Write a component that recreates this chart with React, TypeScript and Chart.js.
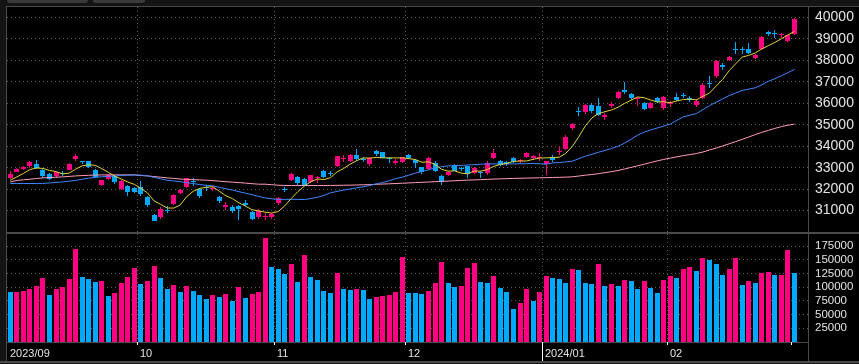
import { useEffect, useRef } from 'react';
import { Chart, registerables } from 'chart.js';

Chart.register(...registerables);

// ---- data (Nikkei 225 daily, 2023/09/01 - 2024/03/01) ----
const opens = [
  32540, 32800, 32950, 33090, 33160, 32910, 32720, 32600, 32760, 32900,
  33390, 33300, 33290, 32880, 32190, 32490, 32600, 32020, 32140, 32060,
  32100, 31620, 30790, 30700, 31030, 31310, 31810, 32090, 32350, 31990,
  32080, 32000, 31640, 31160, 31170, 31220, 31350, 30920, 30700, 30680,
  30680, 31330, 32000, 32420, 32560, 32470, 32310, 32500, 32840, 32740,
  33070, 33400, 33300, 33590, 33400, 33160, 33770, 33720, 33450, 33210,
  33260, 33580, 33350, 33020, 32930, 33210, 32610, 32650, 33120, 32960,
  33070, 32740, 32800, 32740, 33440, 33300, 33260, 33440, 33290, 33490,
  33440, 33430, 33160, 33490, 33720, 33860, 34850, 35600, 35600, 35910,
  35870, 35370, 35870, 36270, 36640, 36430, 36200, 36020, 35800, 36225,
  35760, 35990, 36300, 36410, 36270, 35910, 36230, 36930, 37250, 37780,
  38000, 38550, 38520, 38540, 38135, 38510, 39320, 39270, 39180, 38900,
  39226,
];
const highs = [
  32845, 32990, 33090, 33322, 33350, 32960, 32770, 32810, 32860, 33200,
  33634, 33330, 33300, 32960, 32440, 32720, 32650, 32440, 32180, 32120,
  32400, 31700, 30850, 31160, 31200, 31780, 32010, 32520, 32500, 32050,
  32200, 32150, 31700, 31400, 31260, 31240, 31470, 30960, 31050, 30900,
  30900, 31640, 32100, 32770, 32600, 32500, 32680, 32620, 32880, 32830,
  33550, 33600, 33640, 33850, 33500, 33480, 33810, 33750, 33500, 33400,
  33500, 33650, 33400, 33050, 33500, 33300, 32650, 32850, 33170, 33050,
  33100, 33030, 32850, 33300, 33860, 33350, 33320, 33480, 33400, 33750,
  33600, 33670, 33300, 33570, 34000, 34540, 35100, 35840, 35950, 36000,
  36230, 35550, 36080, 36580, 36984, 36480, 36300, 36050, 36080, 36280,
  36320, 36100, 36460, 36480, 36320, 36200, 36950, 37287, 38010, 37900,
  38200, 38865, 38620, 38810, 38300, 39157, 39388, 39426, 39300, 39200,
  39990,
];
const lows = [
  32450, 32780, 32880, 33000, 32950, 32540, 32420, 32510, 32600, 32870,
  33330, 33160, 32980, 32500, 32150, 32420, 32260, 31980, 31670, 31810,
  31700, 31150, 30490, 30600, 30900, 31250, 31750, 32050, 32150, 31600,
  31900, 31900, 31340, 31040, 30900, 30540, 31200, 30560, 30600, 30550,
  30600, 31250, 31850, 32380, 32200, 32150, 32280, 32300, 32540, 32600,
  33050, 33280, 33250, 33330, 33250, 33100, 33560, 33440, 33220, 33120,
  33200, 33400, 32975, 32700, 32900, 32800, 32180, 32600, 32830, 32850,
  32510, 32700, 32500, 32650, 33400, 33100, 33100, 33200, 33200, 33450,
  33380, 33300, 32650, 33280, 33580, 33800, 34750, 35400, 35500, 35550,
  35400, 35200, 35800, 36200, 36450, 36150, 35880, 35700, 35750, 36000,
  35700, 35850, 36100, 36250, 36050, 35850, 36200, 36700, 37200, 37550,
  37950, 38300, 38320, 38300, 38050, 38500, 39150, 39050, 39050, 38876,
  39186,
];
const closes = [
  32710, 32939, 33037, 33241, 32991, 32607, 32468, 32776, 32707, 33168,
  33533, 33243, 33024, 32571, 32402, 32679, 32315, 32372, 31873, 31858,
  31760, 31238, 30527, 31075, 30995, 31747, 31937, 32495, 32316, 31659,
  32040, 32042, 31431, 31259, 31000, 31062, 31270, 30602, 30992, 30697,
  30859, 31602, 31950, 32708, 32272, 32166, 32646, 32568, 32585, 32696,
  33520, 33424, 33585, 33388, 33354, 33452, 33626, 33448, 33408, 33321,
  33487, 33432, 33231, 32776, 33446, 32858, 32308, 32792, 32844, 32926,
  32686, 32971, 32759, 33219, 33676, 33140, 33169, 33254, 33306, 33681,
  33540, 33464, 33288, 33377, 33763, 34442, 35050, 35577, 35902, 35619,
  35478, 35466, 35963, 36547, 36518, 36226, 36236, 35751, 36027, 36066,
  36287, 36011, 36158, 36354, 36161, 36120, 36863, 36897, 37964, 37703,
  38158, 38487, 38470, 38364, 38262, 39099, 39234, 39240, 39208, 39166,
  39911,
];
const volumes = [
  91600, 92000, 93400, 97000, 102500, 117000, 86200, 97000, 100700, 115200,
  169600, 118800, 115200, 109700, 111600, 84300, 89800, 107900, 118800, 135100,
  106100, 111600, 138800, 117000, 97000, 104300, 91600, 102500, 93400, 86200,
  78900, 86200, 82500, 88000, 75300, 100700, 80700, 88000, 91600, 189600,
  136900, 133300, 124300, 142400, 109700, 158700, 118800, 113400, 93400, 89800,
  126100, 97000, 95200, 97000, 95200, 78900, 82500, 84300, 86200, 91600,
  155100, 89800, 89500, 88000, 93400, 107900, 146000, 107900, 100700, 102500,
  135100, 144200, 109700, 107900, 120600, 98900, 91600, 60800, 71600, 97000,
  75300, 91600, 120600, 117000, 115200, 107900, 133300, 131500, 107900, 106100,
  142400, 102500, 106100, 102500, 113400, 111600, 97000, 111600, 98900, 89800,
  113400, 120600, 117000, 133300, 136900, 129700, 153300, 149600, 142400, 122400,
  133300, 153300, 104300, 111600, 107900, 126100, 127900, 122400, 122800, 167800,
  126100,
];
const prevDayVolume = 98000;
const ma5 = [
  32412, 32566, 32728, 32909, 32984, 32963, 32869, 32817, 32710, 32745,
  32930, 33085, 33135, 33108, 32955, 32784, 32598, 32468, 32328, 32219,
  32036, 31820, 31451, 31292, 31119, 31116, 31256, 31650, 31898, 32031,
  32089, 32110, 31898, 31686, 31554, 31359, 31204, 31039, 30985, 30925,
  30884, 30950, 31220, 31563, 31878, 32140, 32348, 32472, 32447, 32532,
  32803, 32959, 33162, 33323, 33454, 33441, 33481, 33454, 33458, 33451,
  33458, 33419, 33376, 33249, 33274, 33149, 32924, 32836, 32850, 32746,
  32711, 32844, 32837, 32912, 33062, 33153, 33193, 33292, 33309, 33310,
  33390, 33449, 33456, 33470, 33486, 33667, 33984, 34442, 34947, 35318,
  35525, 35608, 35686, 35815, 35994, 36144, 36298, 36256, 36152, 36061,
  36073, 36028, 36110, 36175, 36194, 36161, 36331, 36479, 36801, 37109,
  37517, 37842, 38156, 38236, 38348, 38536, 38686, 38840, 39009, 39189,
  39352,
];
const ma25 = [
  32261, 32261, 32261, 32262, 32262, 32265, 32285, 32310, 32335, 32370,
  32405, 32460, 32510, 32545, 32575, 32595, 32615, 32635, 32650, 32660,
  32650, 32615, 32550, 32480, 32410, 32380, 32345, 32300, 32260, 32210,
  32180, 32150, 32080, 32020, 31955, 31880, 31810, 31740, 31660, 31590,
  31550, 31520, 31520, 31525, 31520, 31515, 31560, 31620, 31700, 31830,
  31890, 31955, 32000, 32060, 32105, 32170, 32245, 32310, 32390, 32490,
  32560, 32650, 32745, 32820, 32900, 32990, 33050, 33080, 33090, 33105,
  33125, 33140, 33160, 33175, 33175, 33175, 33175, 33175, 33180, 33185,
  33195, 33180, 33161, 33222, 33240, 33268, 33301, 33417, 33534, 33622,
  33716, 33804, 33893, 33995, 34145, 34326, 34517, 34657, 34755, 34848,
  34937, 35035, 35207, 35371, 35445, 35520, 35711, 35893, 36051, 36205,
  36359, 36480, 36597, 36662, 36723, 36862, 37026, 37147, 37287, 37431,
  37580,
];
const ma75 = [
  32336, 32401, 32434, 32462, 32494, 32522, 32541, 32555, 32569, 32592,
  32615, 32630, 32645, 32655, 32662, 32662, 32662, 32662, 32662, 32662,
  32634, 32615, 32583, 32555, 32522, 32499, 32471, 32452, 32438, 32429,
  32415, 32396, 32368, 32345, 32322, 32303, 32280, 32252, 32229, 32229,
  32205, 32182, 32168, 32168, 32168, 32168, 32168, 32168, 32170, 32172,
  32175, 32180, 32185, 32192, 32200, 32210, 32222, 32235, 32248, 32261,
  32275, 32290, 32303, 32316, 32330, 32345, 32360, 32375, 32390, 32405,
  32418, 32430, 32442, 32455, 32467, 32478, 32488, 32497, 32505, 32513,
  32520, 32527, 32534, 32541, 32548, 32558, 32573, 32610, 32648, 32681,
  32718, 32765, 32816, 32867, 32937, 33012, 33086, 33161, 33240, 33315,
  33385, 33445, 33506, 33562, 33609, 33660, 33730, 33823, 33912, 34010,
  34112, 34215, 34317, 34429, 34541, 34648, 34737, 34830, 34914, 34979,
  35030,
];
const priceTicks = [31000, 32000, 33000, 34000, 35000, 36000, 37000, 38000, 39000, 40000];
const volumeTicks = [25000, 50000, 75000, 100000, 125000, 150000, 175000];
const monthStarts = [0, 20, 41, 61, 82, 101, 120];
const monthLabels = ['2023/09', '10', '11', '12', '2024/01', '02', ''];

// ---- styling ----
const UP = '#ff0080';
const DOWN = '#00a8ff';
const GRID = '#5a5a5a';
const FRAME = '#4a4a4a';
const OUTER = '#141414';
const TEXT = '#e4e4e4';
const FONT = '"Liberation Sans", Arial, sans-serif';
const X_MIN = -0.5;
const X_MAX = 122.07;

const snapBars = {
  id: 'snapBars',
  afterDatasetsUpdate(chart: any) {
    chart.data.datasets.forEach((_: any, di: number) => {
      const meta = chart.getDatasetMeta(di);
      if (meta.type !== 'bar') return;
      meta.data.forEach((el: any) => {
        el.x = Math.floor(el.x) + 0.5;
        const y = Math.round(el.y);
        let b = Math.round(el.base);
        if (b === y) b = y + 1;
        el.y = y;
        el.base = b;
      });
    });
  },
};

const monthAxis = {
  id: 'monthAxis',
  afterDraw(chart: any) {
    const { ctx, chartArea } = chart;
    const xs = chart.scales.x;
    ctx.save();
    ctx.font = `11px ${FONT}`;
    ctx.fillStyle = TEXT;
    ctx.textBaseline = 'alphabetic';
    ctx.textAlign = 'left';
    ctx.strokeStyle = '#ffffff';
    ctx.lineWidth = 1;
    monthStarts.forEach((idx, k) => {
      const px = Math.round(xs.getPixelForValue(idx - 0.5) - 0.5) + 0.5;
      if (k > 0) {
        const newYear = monthLabels[k].indexOf('/') >= 0;
        ctx.beginPath();
        ctx.moveTo(px, chartArea.bottom);
        ctx.lineTo(px, chartArea.bottom + (newYear ? 19 : 3));
        ctx.stroke();
      }
      if (monthLabels[k]) ctx.fillText(monthLabels[k], px + 2.5, chartArea.bottom + 15);
    });
    ctx.restore();
  },
};

const monthGridTicks = (s: any) => {
  s.ticks = monthStarts.slice(1, 6).map((v) => ({ value: v - 0.5 }));
};

export default function App() {
  const priceRef = useRef<HTMLCanvasElement>(null);
  const volRef = useRef<HTMLCanvasElement>(null);

  useEffect(() => {
    document.body.style.margin = '0';
    document.body.style.background = '#000';
    const idx = closes.map((_, i) => i);
    const candleColors = idx.map((i) => (closes[i] >= opens[i] ? UP : DOWN));
    const volColors = idx.map((i) =>
      volumes[i] >= (i === 0 ? prevDayVolume : volumes[i - 1]) ? UP : DOWN
    );

    const xScale = (height: number) => ({
      type: 'linear' as const,
      min: X_MIN,
      max: X_MAX,
      bounds: 'data' as const,
      offset: false,
      afterBuildTicks: monthGridTicks,
      ticks: { display: false },
      grid: { color: GRID, lineWidth: 1, drawTicks: false, offset: false },
      border: { display: false, dash: [1, 3] },
      afterFit: (s: any) => {
        s.height = height;
        s.paddingLeft = 0;
        s.paddingRight = 0;
      },
    });

    const price = new Chart(priceRef.current!, {
      type: 'bar',
      data: {
        datasets: [
          {
            type: 'line',
            data: idx.map((i) => ({ x: i, y: ma5[i] })),
            borderColor: '#e2d43a',
            borderWidth: 1,
            pointRadius: 0,
            tension: 0,
            order: 0,
          } as any,
          {
            type: 'line',
            data: idx.map((i) => ({ x: i, y: ma25[i] })),
            borderColor: '#3f86ff',
            borderWidth: 1,
            pointRadius: 0,
            tension: 0,
            order: 0,
          },
          {
            type: 'line',
            data: idx.map((i) => ({ x: i, y: ma75[i] })),
            borderColor: '#ff9db6',
            borderWidth: 1,
            pointRadius: 0,
            tension: 0,
            order: 0,
          },
          {
            type: 'bar',
            data: idx.map((i) => ({ x: i, y: [opens[i], closes[i]] })),
            backgroundColor: candleColors,
            barThickness: 5,
            grouped: false,
            borderWidth: 0,
            inflateAmount: 0,
            minBarLength: 1,
            order: 1,
          },
          {
            type: 'bar',
            data: idx.map((i) => ({ x: i, y: [lows[i], highs[i]] })),
            backgroundColor: candleColors,
            barThickness: 1,
            grouped: false,
            borderWidth: 0,
            inflateAmount: 0,
            minBarLength: 1,
            order: 2,
          },
        ] as any,
      },
      options: {
        responsive: false,
        maintainAspectRatio: false,
        animation: false,
        events: [],
        layout: { padding: 0 },
        plugins: { legend: { display: false }, tooltip: { enabled: false } },
        scales: {
          x: xScale(0) as any,
          y: {
            type: 'linear',
            position: 'right',
            min: 30000,
            max: 40490,
            bounds: 'data',
            afterBuildTicks: (s: any) => {
              s.ticks = priceTicks.map((v) => ({ value: v }));
            },
            ticks: {
              color: TEXT,
              font: { family: FONT, size: 14 },
              padding: 7,
              callback: (v: any) => String(v),
            },
            grid: { color: GRID, lineWidth: 1, drawTicks: false },
            border: { display: false, dash: [1, 3] },
            afterFit: (s: any) => {
              s.width = 51;
              s.paddingTop = 0;
              s.paddingBottom = 0;
            },
          } as any,
        },
      },
      plugins: [snapBars],
    });

    const vol = new Chart(volRef.current!, {
      type: 'bar',
      data: {
        datasets: [
          {
            data: idx.map((i) => ({ x: i, y: volumes[i] })),
            backgroundColor: volColors,
            barThickness: 5,
            grouped: false,
            borderWidth: 0,
            inflateAmount: 0,
          } as any,
        ],
      },
      options: {
        responsive: false,
        maintainAspectRatio: false,
        animation: false,
        events: [],
        layout: { padding: 0 },
        plugins: { legend: { display: false }, tooltip: { enabled: false } },
        scales: {
          x: {
            ...(xScale(22) as any),
            border: { display: true, color: FRAME, width: 1, dash: [1, 3] },
          },
          y: {
            type: 'linear',
            position: 'right',
            min: 0,
            max: 196900,
            bounds: 'data',
            afterBuildTicks: (s: any) => {
              s.ticks = volumeTicks.map((v) => ({ value: v }));
            },
            ticks: {
              color: TEXT,
              font: { family: FONT, size: 11.5 },
              padding: 7,
              callback: (v: any) => String(v),
            },
            grid: { color: GRID, lineWidth: 1, drawTicks: false },
            border: { display: false, dash: [1, 3] },
            afterFit: (s: any) => {
              s.width = 51;
              s.paddingTop = 0;
              s.paddingBottom = 0;
            },
          } as any,
        },
      },
      plugins: [snapBars, monthAxis],
    });

    return () => {
      price.destroy();
      vol.destroy();
    };
  }, []);

  const abs = (l: number, t: number, w: number, h: number, bg: string, extra: any = {}) => (
    <div style={{ position: 'absolute', left: l, top: t, width: w, height: h, background: bg, ...extra }} />
  );

  return (
    <div style={{ position: 'relative', width: 859, height: 364, background: '#000', overflow: 'hidden' }}>
      {abs(0, 0, 859, 6, OUTER)}
      {abs(0, 0, 6, 364, OUTER)}
      {abs(7, -3, 81, 6, '#3a3a3a', { borderRadius: 3 })}
      {abs(93, -3, 52, 6, '#3a3a3a', { borderRadius: 3 })}
      <canvas
        ref={priceRef}
        width={852}
        height={225}
        style={{ position: 'absolute', left: 7, top: 7, width: 852, height: 225 }}
      />
      <canvas
        ref={volRef}
        width={852}
        height={130}
        style={{ position: 'absolute', left: 7, top: 234, width: 852, height: 130 }}
      />
      {abs(6, 6, 853, 1, FRAME)}
      {abs(6, 6, 1, 356, FRAME)}
      {abs(808, 6, 1, 356, FRAME)}
      {abs(7, 232, 852, 2, FRAME)}
      {abs(0, 361, 859, 2, FRAME)}
      {abs(0, 363, 859, 1, OUTER)}
    </div>
  );
}
